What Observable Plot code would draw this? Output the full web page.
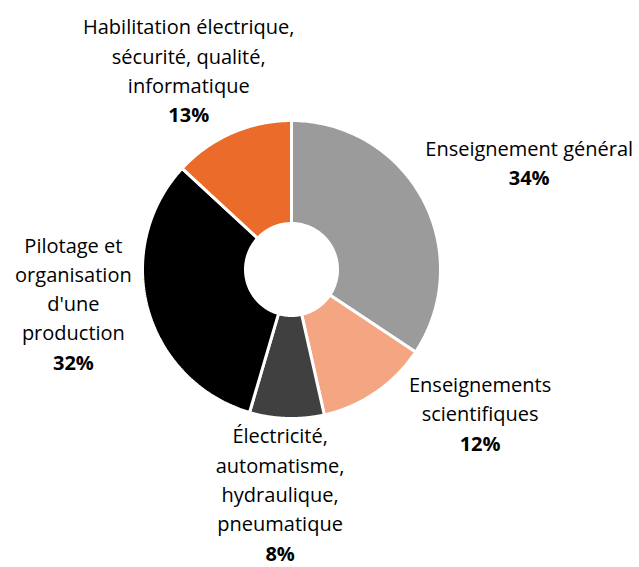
<!DOCTYPE html>
<html><head><meta charset="utf-8">
<script src="https://cdn.jsdelivr.net/npm/d3@7"></script>
<script src="https://cdn.jsdelivr.net/npm/@observablehq/plot@0.6"></script>
<style>body{margin:0;background:#fff}</style>
</head><body><div id="chart"></div>
<script>
// Data
const categories = [
  "Enseignement général",
  "Enseignements scientifiques",
  "Électricité, automatisme, hydraulique, pneumatique",
  "Pilotage et organisation d'une production",
  "Habilitation électrique, sécurité, qualité, informatique"
];
const labelLines = [
  ["Enseignement général"],
  ["Enseignements", "scientifiques"],
  ["Électricité,", "automatisme,", "hydraulique,", "pneumatique"],
  ["Pilotage et", "organisation", "d'une", "production"],
  ["Habilitation électrique,", "sécurité, qualité,", "informatique"]
];
const values = [34, 12, 8, 32, 13];
const percentLabels = ["34%", "12%", "8%", "32%", "13%"];

// Styles & layout (not data)
const palette = ["#9b9b9b", "#f4a683", "#404040", "#000000", "#eb6b2a"];
const labelNudge = [[-2, -12], [53, -29], [-4, -15], [0, -29], [7, 10]];
const W = 639, H = 567, cx = 291, cy = 269, rOut = 149, rIn = 46;
const fontSize = 20, lineH = 29.3, labelR = 168;
const font = "'Open Sans', sans-serif";

const data = categories.map((name, i) => ({name, value: values[i], lines: labelLines[i], pct: percentLabels[i], nudge: labelNudge[i]}));
const arcs = d3.pie().sort(null).value(d => d.value)(data);

// slice polygons
const pts = [];
for (const a of arcs) {
  const n = 120;
  for (let k = 0; k <= n; k++) {
    const t = a.startAngle + (a.endAngle - a.startAngle) * k / n;
    pts.push({name: a.data.name, x: rOut * Math.sin(t), y: -rOut * Math.cos(t)});
  }
  for (let k = n; k >= 0; k--) {
    const t = a.startAngle + (a.endAngle - a.startAngle) * k / n;
    pts.push({name: a.data.name, x: rIn * Math.sin(t), y: -rIn * Math.cos(t)});
  }
}

// label lines
const ctx = document.createElement("canvas").getContext("2d");
function measure(s, bold) { ctx.font = `${bold ? "bold " : ""}${fontSize}px ${font}`; return ctx.measureText(s).width; }
const textRows = [];
for (const a of arcs) {
  const d = a.data;
  const rows = d.lines.map(t => ({text: t, bold: false})).concat([{text: d.pct, bold: true}]);
  const halfW = d3.max(rows, r => measure(r.text, r.bold)) / 2;
  const halfH = rows.length * lineH / 2;
  const mid = (a.startAngle + a.endAngle) / 2;
  const dx = Math.sin(mid), dy = -Math.cos(mid);
  const bx = labelR * dx + dx * halfW + d.nudge[0];
  const by = labelR * dy + dy * halfH + d.nudge[1];
  rows.forEach((r, i) => textRows.push({text: r.text, bold: r.bold, x: bx, y: by + (i - (rows.length - 1) / 2) * lineH}));
}

const chart = Plot.plot({
  width: W, height: H, margin: 0,
  style: {fontFamily: font, background: "#fff"},
  x: {domain: [-cx, W - cx], axis: null},
  y: {domain: [H - cy, -cy], axis: null},
  color: {domain: categories, range: palette},
  marks: [
    Plot.line(pts, {x: "x", y: "y", z: "name", fill: "name", stroke: "#fff", strokeWidth: 3, curve: "linear-closed", strokeLinejoin: "miter"}),
    Plot.text(textRows.filter(d => !d.bold), {x: "x", y: "y", text: "text", fontSize, fill: "#000", lineAnchor: "middle"}),
    Plot.text(textRows.filter(d => d.bold), {x: "x", y: "y", text: "text", fontSize, fontWeight: "bold", fill: "#000", lineAnchor: "middle"})
  ]
});
document.getElementById("chart").append(chart);
</script>
</body></html>
